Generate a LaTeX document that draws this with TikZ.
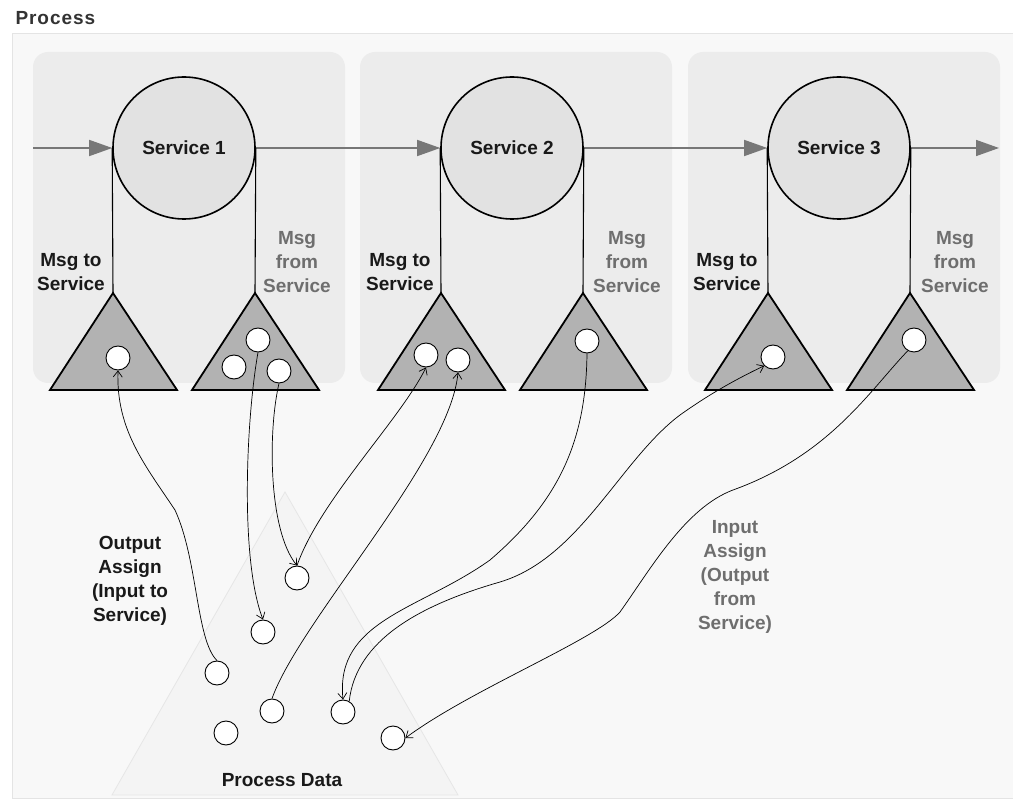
\documentclass[tikz,border=0pt]{standalone}
\usepackage{fontspec}
\setmainfont{Liberation Sans}
\usetikzlibrary{arrows.meta}
\definecolor{outerfill}{HTML}{F8F8F8}
\definecolor{outerline}{HTML}{E4E4E4}
\definecolor{panelfill}{HTML}{ECECEC}
\definecolor{svcfill}{HTML}{E2E2E2}
\definecolor{trifill}{HTML}{B2B2B2}
\definecolor{flowgray}{HTML}{777777}
\definecolor{fromgray}{HTML}{6E6E6E}
\definecolor{pdfill}{HTML}{F4F4F4}
\definecolor{pdline}{HTML}{E6E6E6}
\begin{document}
\begin{tikzpicture}[x=1pt,y=-1pt,
  every node/.style={font=\bfseries\fontsize{19}{24}\selectfont},
  svc/.style={circle, draw=black, line width=1.6pt, fill=svcfill, minimum size=142pt, inner sep=0pt, text=black!90},
  dot/.style={circle, draw=black, line width=0.9pt, fill=white, minimum size=24pt, inner sep=0pt},
  tri/.style={draw=black, line width=1.8pt, fill=trifill, line join=miter},
  stem/.style={draw=black, line width=1.1pt},
  flow/.style={draw=flowgray, line width=1.5pt, -{Triangle[length=23pt,width=16pt,fill=flowgray]}},
  link/.style={draw=black, line width=0.7pt, -{Straight Barb[length=6pt,width=9pt]}},
  lbl/.style={align=center, text=black!90},
  fromlbl/.style={align=center, text=fromgray},
  panelbox/.style={fill=panelfill, rounded corners=15pt}
]
\useasboundingbox (0,0) rectangle (1013,810);
\fill[white] (0,0) rectangle (1013,810);
% outer panel
\draw[outerline, fill=outerfill] (12,33) rectangle (1014,798);
\node[anchor=west, text=black!80, font=\bfseries\fontsize{19}{20}\selectfont\addfontfeature{LetterSpace=5}] (title) at (12,18) {Process};
% service panels
\fill[panelbox] (33,52) rectangle (345,383);
\fill[panelbox] (360,52) rectangle (672,383);
\fill[panelbox] (688,52) rectangle (1000,383);
% process data triangle
\draw[pdline, fill=pdfill, line width=0.8pt] (285,492) -- (458,795) -- (112,795) -- cycle;

% services
\node[svc] (s1) at (184,148) {Service 1};
\node[svc] (s2) at (512,148) {Service 2};
\node[svc] (s3) at (839,148) {Service 3};
\coordinate (in0) at (33,148);
\coordinate (out0) at (999,148);
\draw[flow] (in0) -- (s1.west);
\draw[flow] (s1.east) -- (s2.west);
\draw[flow] (s2.east) -- (s3.west);
\draw[flow] (s3.east) -- (out0);

% triangle apexes
\coordinate (t1a) at (113,293);
\coordinate (t1b) at (255,293);
\coordinate (t2a) at (441,293);
\coordinate (t2b) at (583,293);
\coordinate (t3a) at (768,293);
\coordinate (t3b) at (910,293);
\draw[stem] (s1.west) -- (t1a);
\draw[stem] (s1.east) -- (t1b);
\draw[stem] (s2.west) -- (t2a);
\draw[stem] (s2.east) -- (t2b);
\draw[stem] (s3.west) -- (t3a);
\draw[stem] (s3.east) -- (t3b);
\draw[tri] (t1a) -- +(64,97) -- +(-63,97) -- cycle;
\draw[tri] (t1b) -- +(64,97) -- +(-63,97) -- cycle;
\draw[tri] (t2a) -- +(64,97) -- +(-63,97) -- cycle;
\draw[tri] (t2b) -- +(64,97) -- +(-63,97) -- cycle;
\draw[tri] (t3a) -- +(64,97) -- +(-63,97) -- cycle;
\draw[tri] (t3b) -- +(64,97) -- +(-63,97) -- cycle;

% labels on services
\node[lbl] (l1a) at (71,272) {Msg to\\Service};
\node[fromlbl] (l1b) at (297,262) {Msg\\from\\Service};
\node[lbl] (l2a) at (400,272) {Msg to\\Service};
\node[fromlbl] (l2b) at (627,262) {Msg\\from\\Service};
\node[lbl] (l3a) at (727,272) {Msg to\\Service};
\node[fromlbl] (l3b) at (955,262) {Msg\\from\\Service};

% message parts
\node[dot] (m1a) at (118,358) {};
\node[dot] (m1b1) at (258,340) {};
\node[dot] (m1b2) at (234,367) {};
\node[dot] (m1b3) at (279,371) {};
\node[dot] (m2a1) at (426,355) {};
\node[dot] (m2a2) at (458,360) {};
\node[dot] (m2b) at (587,341) {};
\node[dot] (m3a) at (773,357) {};
\node[dot] (m3b) at (914,340) {};

% process data parts
\node[dot] (p1) at (297,578) {};
\node[dot] (p2) at (263,632) {};
\node[dot] (p3) at (217,673) {};
\node[dot] (p4) at (272,711) {};
\node[dot] (p5) at (226,733) {};
\node[dot] (p6) at (343,712) {};
\node[dot] (p7) at (393,738) {};

% assignments
\draw[link] (p3.north) .. controls (196,640) and (198,560) .. (175,510)
  .. controls (145,465) and (116,430) .. (m1a.south);
\draw[link] (m1b1.south) .. controls (246,420) and (240,560) .. (p2.north);
\draw[link] (m1b3.south) .. controls (268,430) and (268,530) .. (p1.north);
\draw[link] (p1.north) .. controls (320,500) and (400,420) .. (m2a1.south);
\draw[link] (p4.north) .. controls (300,620) and (450,460) .. (m2a2.south);
\draw[link] (m2b.south) .. controls (586,440) and (560,500) .. (490,560)
  .. controls (420,610) and (335,620) .. (p6.north);
\draw[link] (p6.60) .. controls (356,640) and (420,605) .. (500,582)
  .. controls (580,558) and (620,460) .. (680,415)
  .. controls (715,390) and (745,375) .. (m3a.225);
\draw[link] (m3b.240) .. controls (870,390) and (830,455) .. (733,490)
  .. controls (685,508) and (650,570) .. (620,612)
  .. controls (595,640) and (470,690) .. (p7.east);

% assignment labels
\node[lbl] (oa) at (130,581) {Output\\Assign\\(Input to\\Service)};
\node[fromlbl] (ia) at (735,577) {Input\\Assign\\(Output\\from\\Service)};
\node[lbl] (pd) at (282,780) {Process Data};
\end{tikzpicture}
\end{document}
